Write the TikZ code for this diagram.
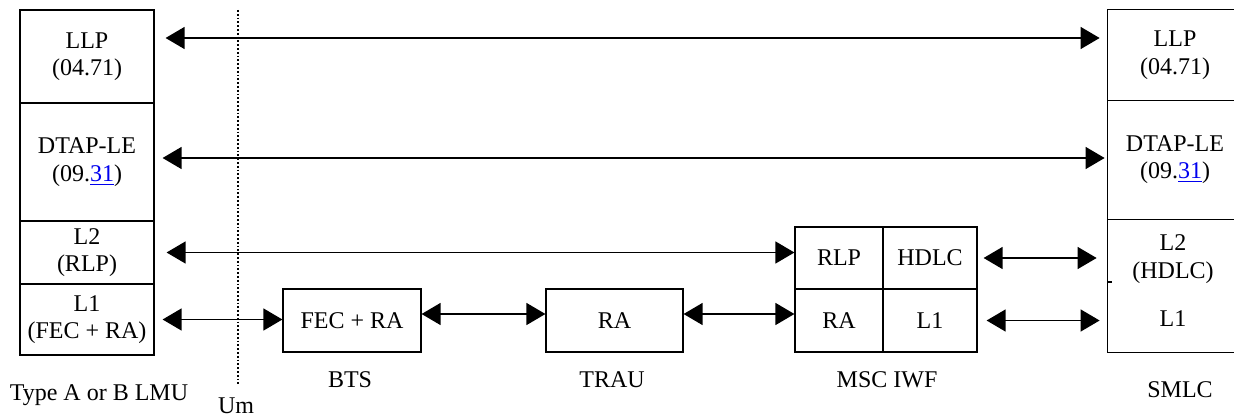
\documentclass[tikz,border=0pt]{standalone}
\usepackage{fontspec}
\setmainfont{Liberation Serif}
\usetikzlibrary{arrows.meta}
\definecolor{linkblue}{RGB}{0,0,238}
\newcommand{\lnk}[1]{\textcolor{linkblue}{\underline{#1}}}
\tikzset{
  every node/.style={font=\fontsize{12}{13.8}\selectfont},
  cell/.style={draw, line width=0.6pt, inner sep=0pt, align=center, minimum width=67pt},
  opencell/.style={inner sep=0pt, align=center, minimum width=67pt},
  txt/.style={inner sep=0pt, align=center},
  lbl/.style={inner sep=0pt, anchor=base},
  both/.style={{Triangle[length=9.5pt,width=11pt]}-{Triangle[length=9.5pt,width=11pt]}, line width=0.7pt},
}
\begin{document}
\begin{tikzpicture}[x=0.5pt,y=-0.5pt]
        \useasboundingbox (0,0) rectangle (1234,417);
        \clip (0,0) rectangle (1234,417);
        % LMU stack
        \node[cell, minimum height=46.5pt] (lmuLLP) at (87,56.5) {LLP\\(04.71)};
        \node[cell, minimum height=59pt] (lmuDTAP) at (87,162) {DTAP-LE\\(09.\lnk{31})};
        \node[cell, minimum height=31.5pt] (lmuL2) at (87,252.5) {L2\\(RLP)};
        \node[cell, minimum height=35.5pt] (lmuL1) at (87,319.5) {L1\\(FEC + RA)};
        \node[lbl] (lmu) at (99,400) {Type A or B LMU};
        % Um
        \draw[densely dotted, line width=0.9pt] (238,10) -- (238,385);
        \node[lbl] (um) at (236,413) {Um};
        % BTS and TRAU
        \node[cell, minimum width=69pt, minimum height=31.5pt] (bts) at (352,320.5) {FEC + RA};
        \node[lbl] (btslbl) at (350,387) {BTS};
        \node[cell, minimum width=68.5pt, minimum height=31.5pt] (trau) at (614.5,320.5) {RA};
        \node[lbl] (traulbl) at (612,387) {TRAU};
        % MSC IWF
        \node[cell, minimum width=44pt, minimum height=31pt] (mscRLP) at (839,258) {RLP};
        \node[cell, minimum width=47pt, minimum height=31pt] (mscHDLC) at (930,258) {HDLC};
        \node[cell, minimum width=44pt, minimum height=31.5pt] (mscRA) at (839,320.5) {RA};
        \node[cell, minimum width=47pt, minimum height=31.5pt] (mscL1) at (930,320.5) {L1};
        \node[lbl] (msclbl) at (887,387) {MSC IWF};
        % SMLC stack
        \node[opencell, minimum height=45pt] (smLLP) at (1175,55) {LLP\\(04.71)};
        \node[opencell, minimum height=59.5pt] (smDTAP) at (1175,159.5) {DTAP-LE\\(09.\lnk{31})};
        \node[opencell, minimum height=66.5pt] (smLow) at (1175,285.5) {};
        \node[txt] (smL2) at (1173,259) {L2\\(HDLC)};
        \node[txt] (smL1) at (1173,318.5) {L1};
        \node[lbl] (smlc) at (1180,397) {SMLC};
        \draw[line width=0.6pt] (smLLP.north east) -- (smLLP.north west) -- (smLow.south west) -- (smLow.south east);
        \draw[line width=0.6pt] (smLLP.south west) -- (smLLP.south east);
        \draw[line width=0.6pt] (smDTAP.south west) -- (smDTAP.south east);
        \coordinate (tick) at (1108,282);
        \draw[line width=0.6pt] (tick) -- ++(4,0);
        % arrows
        \draw[both, shorten <=5.5pt, shorten >=4pt] ([yshift=9.25pt]lmuLLP.east) -- ([yshift=8.5pt]smLLP.west);
        \draw[both, shorten <=4pt, shorten >=1.5pt] ([yshift=2pt]lmuDTAP.east) -- ([yshift=0.75pt]smDTAP.west);
        \draw[both, shorten <=6pt] (lmuL2.east) -- (lmuL2.east -| mscRLP.west);
        \draw[both, shorten <=4pt] (lmuL1.east) -- (lmuL1.east -| bts.west);
        \draw[both] ([yshift=3.25pt]bts.east) -- ([yshift=3.25pt]trau.west);
        \draw[both] ([yshift=3.25pt]trau.east) -- ([yshift=3.25pt]mscRA.west);
        \draw[both, shorten <=3pt, shorten >=5.5pt] (mscHDLC.east) -- (mscHDLC.east -| smLow.west);
        \draw[both, shorten <=4.5pt, shorten >=4pt] (mscL1.east) -- (mscL1.east -| smLow.west);
\end{tikzpicture}
\end{document}
